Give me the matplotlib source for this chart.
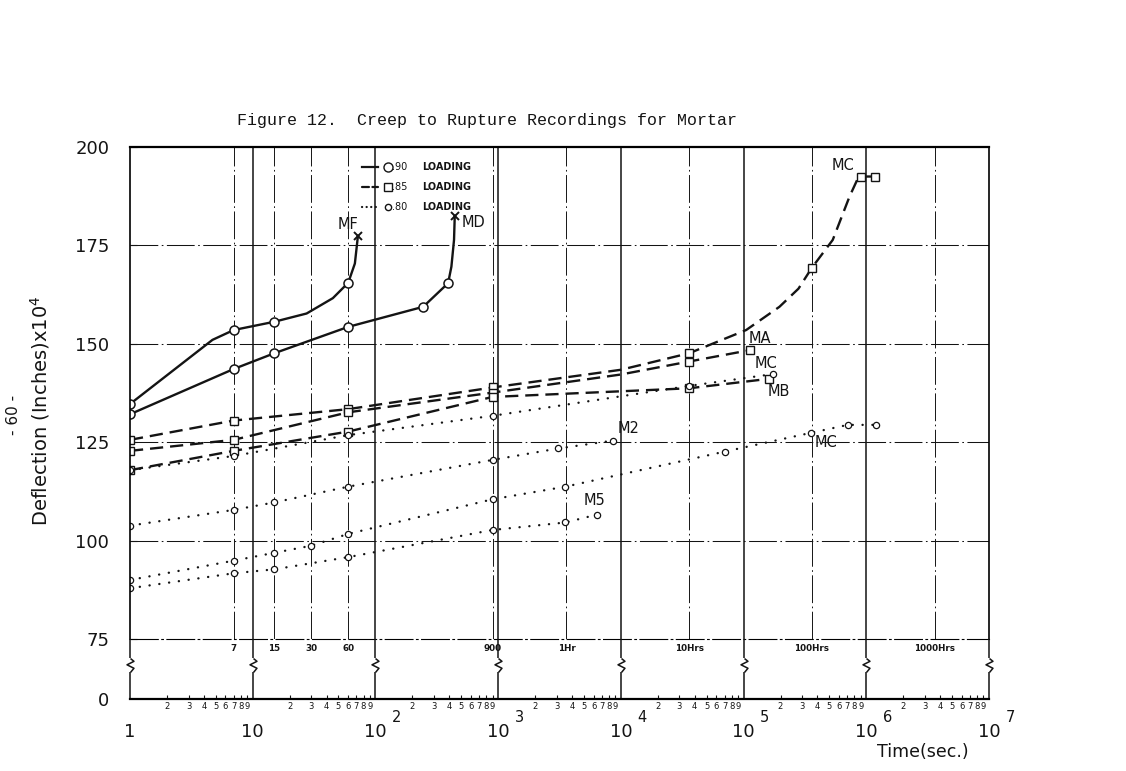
import matplotlib
matplotlib.use('Agg')
import matplotlib.pyplot as plt
from matplotlib.path import Path
from matplotlib.ticker import FixedLocator, LogLocator, FuncFormatter, NullFormatter
import numpy as np

plt.rcParams['lines.scale_dashes'] = False

# ---- data (time in sec, deflection in inches x 1e4)
# 0.90 loading (solid, circles); markers at the indices in *_marks
mf_x = [1, 4.7, 7, 15, 27.5, 45, 60, 68, 72]
mf_y = [134.7, 151.0, 153.5, 155.6, 157.7, 161.6, 165.5, 170.4, 177.4]
mf_marks = [0, 2, 3, 6]
md_x = [1, 7, 15, 60, 245, 391, 416, 437, 443]
md_y = [132.1, 143.6, 147.6, 154.3, 159.4, 165.4, 169.6, 176.4, 182.5]
md_marks = [0, 1, 2, 3, 4, 5]

# 0.85 loading (dashed, squares)
mc85_x = [1, 7, 60, 900, 1e4, 36000, 105000, 196000, 280000, 360000, 533000, 730000, 853000, 910000, 1170000]
mc85_y = [125.6, 130.5, 133.4, 138.9, 143.4, 147.6, 153.5, 159.4, 164.0, 169.3, 176.4, 187.4, 192.0, 192.5, 192.5]
mc85_marks = [0, 1, 2, 3, 5, 9, 13, 14]
ma_x = [1, 7, 60, 900, 1e4, 36000, 113000]
ma_y = [122.8, 125.6, 132.6, 137.6, 142.2, 145.5, 148.4]
ma_marks = [0, 1, 2, 3, 5, 6]
mb_x = [1, 7, 60, 900, 36000, 160700]
mb_y = [117.9, 122.8, 127.7, 136.5, 138.7, 141.1]

# 0.80 loading (dotted, small circles)
mc80a_x = [1, 7, 60, 900, 36000, 173000]
mc80a_y = [117.9, 121.5, 126.8, 131.7, 139.3, 142.3]
m2_x = [1, 7, 15, 60, 900, 3076, 8625]
m2_y = [103.8, 107.8, 109.7, 113.7, 120.5, 123.4, 125.4]
mc80b_x = [1, 7, 15, 30, 60, 900, 3530, 70000, 356000, 708000, 1200000]
mc80b_y = [90.0, 94.9, 96.9, 98.7, 101.7, 110.5, 113.7, 122.6, 127.4, 129.4, 129.4]
m5_x = [1, 7, 15, 60, 900, 3530, 6380]
m5_y = [87.9, 91.7, 92.7, 95.8, 102.7, 104.6, 106.6]

curve_names = ['MF', 'MD', 'MC', 'MA', 'MC', 'MB', 'M2', 'M5', 'MC']
name_x = [59.6, 627, 652000, 136000, 152000, 193000, 11500, 6120, 466000]
name_y = [180.2, 180.8, 195.2, 151.3, 144.9, 138.0, 128.4, 110.1, 124.9]

y_ticks = [75, 100, 125, 150, 175, 200]
decades = [1, 10, 1e2, 1e3, 1e4, 1e5, 1e6, 1e7]
decade_exp = ['', '', '2', '3', '4', '5', '6', '7']
time_marks = [7, 15, 30, 60, 900, 3600, 36000, 360000, 3600000]
time_labels = ['7', '15', '30', '60', '900', '1Hr', '10Hrs', '100Hrs', '1000Hrs']

ink = '#141414'
DASHDOT = (0, (20, 2.5, 1.2, 2.5))

fig = plt.figure(figsize=(11.26, 7.71), dpi=100)
L, R = 130 / 1126, 989 / 1126
ax = fig.add_axes([L, 1 - 639 / 771, R - L, 492 / 771])
ax.set_xscale('log')
ax.set_xlim(1, 1e7)
ax.set_ylim(75, 200)
strip = fig.add_axes([L, 1 - 699 / 771, R - L, 60 / 771], sharex=ax)
strip.set_ylim(0, 1)

# grid
for y in y_ticks[1:-1]:
    ax.axhline(y, color=ink, lw=0.75, ls=DASHDOT)
for d in decades[1:-1]:
    ax.axvline(d, color=ink, lw=1.1)
for t in time_marks:
    ax.axvline(t, color=ink, lw=0.7, ls=DASHDOT)

ax.spines['top'].set_linewidth(1.6)
ax.spines['left'].set_linewidth(1.2)
ax.spines['right'].set_linewidth(1.2)
ax.spines['bottom'].set_linewidth(0.8)
ax.spines['bottom'].set_linestyle(DASHDOT)
ax.set_yticks(y_ticks)
ax.tick_params(axis='y', direction='in', length=5, width=0.8, pad=15, labelsize=13, colors=ink)
ax.tick_params(axis='x', which='both', bottom=False, labelbottom=False)

# ---- series
solid = dict(color=ink, lw=1.7, marker='o', ms=6.5, mfc='white', mec=ink, mew=1.1)
dashed = dict(color=ink, lw=1.7, ls=(0, (9.5, 5)), marker='s', ms=6, mfc='white', mec=ink, mew=1.0)
dotted = dict(color=ink, lw=1.7, ls=(0, (0.1, 7)), dash_capstyle='round', marker='o', ms=4.5,
              mfc='white', mec=ink, mew=0.9)

ax.plot(mf_x, mf_y, markevery=mf_marks, **solid)
ax.plot(md_x, md_y, markevery=md_marks, **solid)
ax.plot(mf_x[-1], mf_y[-1], marker='x', ms=6, mew=1.4, color=ink)
ax.plot(md_x[-1], md_y[-1], marker='x', ms=6, mew=1.4, color=ink)

ax.plot(mc85_x, mc85_y, markevery=mc85_marks, **dashed)
ax.plot(ma_x, ma_y, markevery=ma_marks, **dashed)
ax.plot(mb_x, mb_y, **dashed)

for xs, ys in [(mc80a_x, mc80a_y), (m2_x, m2_y), (mc80b_x, mc80b_y), (m5_x, m5_y)]:
    ax.plot(xs, ys, **dotted)

for name, x, y in zip(curve_names, name_x, name_y):
    ax.text(x, y, name, fontsize=10.5, ha='center', va='center', color=ink)

# legend drawn by hand (marker sits after the line sample, as in the original)
rows = [(0.959, '-', 'o', 6.5, '.90'), (0.919, (0, (5, 2.5)), 's', 6, '.85'), (0.878, (0, (0.1, 3.2)), 'o', 4.5, '.80')]
for ly, ls, mk, ms, txt in rows:
    ax.plot([0.270, 0.2885], [ly, ly], transform=ax.transAxes, color=ink, lw=1.6, ls=ls,
            dash_capstyle='round')
    ax.plot([0.3005], [ly], transform=ax.transAxes, marker=mk, ms=ms, mfc='white', mec=ink, mew=1.0)
    ax.text(0.3045, ly, txt, transform=ax.transAxes, fontsize=7, va='center', ha='left', color=ink)
    ax.text(0.3396, ly, 'LOADING', transform=ax.transAxes, fontsize=7, va='center', ha='left',
            color=ink, fontweight='bold')

# ---- broken-axis strip below 75
for side in ['top', 'left', 'right']:
    strip.spines[side].set_visible(False)
strip.spines['bottom'].set_linewidth(1.6)
strip.set_facecolor('none')

zig = Path([(0, 1), (0.5, 0.6), (-0.5, 0.1), (0.5, -0.4), (0, -1)])
strip.vlines(decades, 0, 0.45, color=ink, lw=1.1, clip_on=False)
strip.vlines(decades, 0.683, 1, color=ink, lw=1.1, clip_on=False)
strip.plot(decades, [0.567] * len(decades), ls='none', marker=zig, ms=10, mew=1.1,
           mfc='none', mec=ink, clip_on=False)

for t, lab in zip(time_marks, time_labels):
    strip.text(t, 0.84, lab, ha='center', va='center', fontsize=6.3, fontweight='bold', color=ink)

strip.xaxis.set_major_locator(FixedLocator(decades))
strip.xaxis.set_major_formatter(NullFormatter())
strip.xaxis.set_minor_locator(LogLocator(base=10, subs=np.arange(2, 10), numticks=100))
strip.xaxis.set_minor_formatter(
    FuncFormatter(lambda v, p: '%d' % round(v / 10 ** np.floor(np.log10(v) + 1e-9))))
strip.tick_params(axis='x', which='major', length=0)
strip.tick_params(axis='x', which='minor', direction='in', length=3, width=0.8, pad=2.5,
                  labelsize=6, colors=ink)
strip.set_yticks([0])
strip.set_yticklabels(['0'])
strip.tick_params(axis='y', length=0, pad=15, labelsize=13, colors=ink)

xtr = strip.get_xaxis_transform()
for d, ex in zip(decades, decade_exp):
    base = '1' if d == 1 else '10'
    strip.text(d, -0.63, base, transform=xtr, ha='center', va='baseline', fontsize=13, color=ink)
    if ex:
        strip.annotate(ex, xy=(d, -0.63), xycoords=xtr, xytext=(12, 11), textcoords='offset points',
                       ha='left', va='baseline', fontsize=10.5, color=ink)

fig.text(923 / 1126, 1 - 752 / 771, 'Time(sec.)', fontsize=12.5, ha='center', va='center', color=ink)
fig.text(487 / 1126, 1 - 121 / 771, 'Figure 12.  Creep to Rupture Recordings for Mortar',
         family='Liberation Mono', fontsize=12, ha='center', va='center', color=ink)
fig.text(40 / 1126, 1 - 411 / 771, r'Deflection (Inches)x$\mathregular{10^4}$', rotation=90,
         fontsize=14, ha='center', va='center', color=ink)
fig.text(14 / 1126, 1 - 415 / 771, '- 60 -', rotation=90, fontsize=11, ha='center', va='center',
         color=ink)

plt.savefig('out.png', dpi=100)
